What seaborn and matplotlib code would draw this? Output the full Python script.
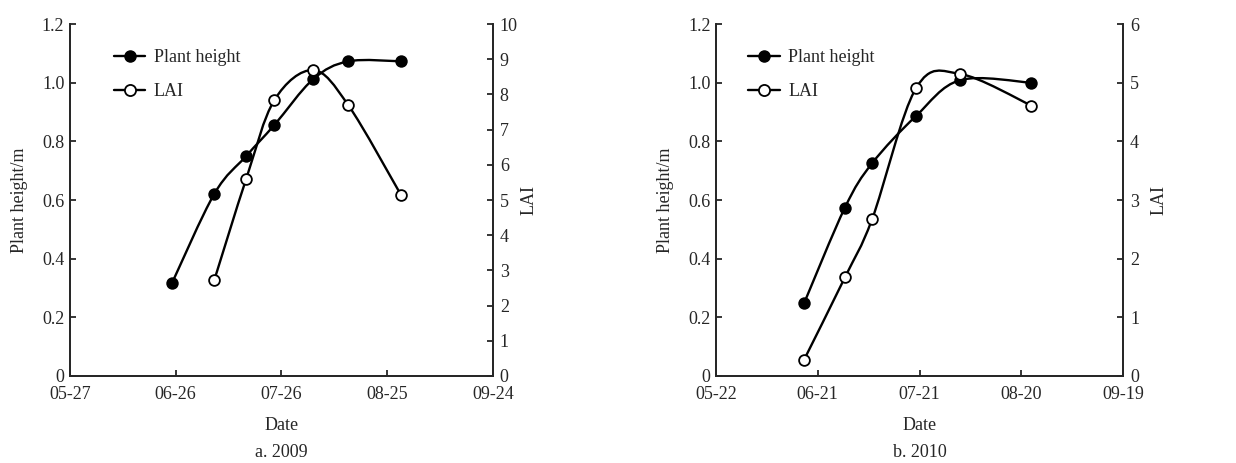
import numpy as np
import pandas as pd
import matplotlib
matplotlib.use("Agg")
import matplotlib.pyplot as plt
import matplotlib.dates as mdates
from matplotlib.path import Path
from matplotlib.patches import PathPatch
from matplotlib.lines import Line2D
import seaborn as sns

# 2009 data
dates_2009 = ["06-25", "07-07", "07-16", "07-24", "08-04", "08-14", "08-29"]
height_2009 = [0.318, 0.622, 0.750, 0.856, 1.012, 1.073, 1.073]
lai_dates_2009 = ["07-07", "07-16", "07-24", "08-04", "08-14", "08-29"]
lai_2009 = [2.74, 5.60, 7.84, 8.69, 7.69, 5.13]
ticks_2009 = ["05-27", "06-26", "07-26", "08-25", "09-24"]

# 2010 data
dates_2010 = ["06-17", "06-29", "07-07", "07-20", "08-02", "08-23"]
height_2010 = [0.249, 0.574, 0.725, 0.887, 1.009, 1.000]
lai_2010 = [0.28, 1.68, 2.67, 4.91, 5.15, 4.61]
ticks_2010 = ["05-22", "06-21", "07-21", "08-20", "09-19"]

sns.set_style("ticks")
plt.rcParams["font.family"] = ["Liberation Serif", "DejaVu Serif"]
plt.rcParams["font.size"] = 13
plt.rcParams["xtick.direction"] = "in"
plt.rcParams["ytick.direction"] = "in"


def to_num(year, md):
    return mdates.date2num(pd.to_datetime([f"{year}-{d}" for d in md]))


def smooth_line(ax, x, y, **kw):
    # Catmull-Rom style smoothing drawn as cubic bezier path
    pts = np.column_stack([x, y])
    ext = np.vstack([pts[0], pts, pts[-1]])
    verts = [pts[0]]
    codes = [Path.MOVETO]
    for i in range(1, len(ext) - 2):
        p0, p1, p2, p3 = ext[i - 1], ext[i], ext[i + 1], ext[i + 2]
        verts += [p1 + (p2 - p0) / 6, p2 - (p3 - p1) / 6, p2]
        codes += [Path.CURVE4] * 3
    ax.add_patch(PathPatch(Path(verts, codes), fill=False, **kw))


def panel(fig, ax, year, dates, height, lai_dates, lai, lai_max, ticks,
          caption, leg_x, lai_pad):
    x_h = to_num(year, dates)
    x_l = to_num(year, lai_dates)
    ax2 = ax.twinx()
    smooth_line(ax, x_h, height, color="black", lw=1.7, zorder=2)
    sns.scatterplot(x=x_h, y=height, ax=ax, color="black", s=60,
                    edgecolor="black", linewidth=1.2, zorder=3)
    smooth_line(ax2, x_l, lai, color="black", lw=1.7, zorder=2)
    sns.scatterplot(x=x_l, y=lai, ax=ax2, color="white", s=60,
                    edgecolor="black", linewidth=1.3, zorder=3)

    tick_pos = to_num(year, ticks)
    ax.set_xlim(tick_pos[0], tick_pos[-1])
    ax.set_xticks(tick_pos)
    ax.set_xticklabels(ticks)
    ax.set_ylim(0, 1.2)
    ax.set_yticks(np.arange(0, 1.21, 0.2))
    ax.set_yticklabels(["0"] + [f"{v:.1f}" for v in np.arange(0.2, 1.21, 0.2)])
    ax2.set_ylim(0, lai_max)
    ax2.set_yticks(range(0, lai_max + 1))

    for a in (ax, ax2):
        a.spines["top"].set_visible(False)
        for s in a.spines.values():
            s.set_linewidth(1.3)
        a.tick_params(length=4, width=1.3, pad=4)
    ax.tick_params(axis="x", pad=7)
    ax2.tick_params(direction="in", pad=5)
    ax.set_xlabel("Date", labelpad=10)
    ax.set_ylabel("Plant height/m", labelpad=10)
    ax2.set_ylabel("LAI", labelpad=lai_pad)

    pos = ax.get_position()
    fig.text(pos.x0 + pos.width / 2, 0.022, caption, ha="center", va="center")

    handles = [
        Line2D([], [], color="black", lw=1.7, marker="o", ms=8,
               mfc="black", mec="black"),
        Line2D([], [], color="black", lw=1.7, marker="o", ms=8,
               mfc="white", mec="black", mew=1.3),
    ]
    ax.legend(handles, ["Plant height", "LAI"], loc="upper left",
              bbox_to_anchor=(leg_x, 0.96), frameon=False, handlelength=1.75,
              handletextpad=0.45, labelspacing=0.97, borderaxespad=0.2)


fig = plt.figure(figsize=(12.36, 4.63), dpi=100)
ax_a = fig.add_axes([0.0566, 0.188, 0.3422, 0.760])
ax_b = fig.add_axes([0.5793, 0.188, 0.3293, 0.760])

panel(fig, ax_a, 2009, dates_2009, height_2009, lai_dates_2009, lai_2009, 10,
      ticks_2009, "a. 2009", 0.078, 2)
panel(fig, ax_b, 2010, dates_2010, height_2010, dates_2010, lai_2010, 6,
      ticks_2010, "b. 2010", 0.053, 8)

fig.savefig("out.png", dpi=100)
